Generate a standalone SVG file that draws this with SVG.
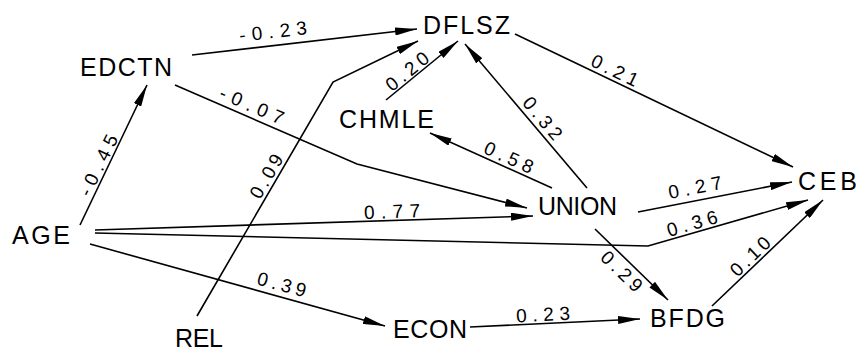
<svg xmlns="http://www.w3.org/2000/svg" width="859" height="352" viewBox="0 0 859 352">
<style>
.node text{font-family:"Liberation Sans","DejaVu Sans",sans-serif;font-size:25px;fill:#000}
.lbl{font-family:"Liberation Sans","DejaVu Sans",sans-serif;font-size:19px;fill:#000;text-anchor:middle}
.edge{fill:none;stroke:#000;stroke-width:1.6;stroke-linejoin:miter;marker-end:url(#ah)}
</style>
<defs>
<marker id="ah" viewBox="0 0 22 8" refX="22" refY="4" markerWidth="22" markerHeight="8" markerUnits="userSpaceOnUse" orient="auto">
<path d="M0,0 L22,4 L0,8 z" fill="#000"/>
</marker>
</defs>
<rect width="859" height="352" fill="#fff"/>
<g id="connectors">
<path class="edge" d="M192,55 L417,29"/>
<path class="edge" d="M80,225 L147,85"/>
<path class="edge" d="M175,85 L357,164 L527,208"/>
<path class="edge" d="M197,316 L333,82 L418,41"/>
<path class="edge" d="M386,100 L458,41"/>
<path class="edge" d="M587,188 L465,44"/>
<path class="edge" d="M552,188 L430,133"/>
<path class="edge" d="M515,34 L793,167"/>
<path class="edge" d="M95,230 L533,216"/>
<path class="edge" d="M95,233 L648,246 L808,200"/>
<path class="edge" d="M638,212 L792,182"/>
<path class="edge" d="M595,229 L668,300"/>
<path class="edge" d="M712,306 L823,200"/>
<path class="edge" d="M90,244 L385,326"/>
<path class="edge" d="M470,327 L640,319"/>
<g id="edge-labels">
<text class="lbl" transform="translate(273,31) rotate(-6.6)" y="7" textLength="68" lengthAdjust="spacing">-0.23</text>
<text class="lbl" transform="translate(98,165) rotate(-64)" y="7" textLength="66" lengthAdjust="spacing">-0.45</text>
<text class="lbl" transform="translate(252,105) rotate(23.5)" y="7" textLength="68" lengthAdjust="spacing">-0.07</text>
<text class="lbl" transform="translate(266,176) rotate(-60)" y="7" textLength="48" lengthAdjust="spacing">0.09</text>
<text class="lbl" transform="translate(407,71) rotate(-39)" y="7" textLength="50" lengthAdjust="spacing">0.20</text>
<text class="lbl" transform="translate(543,118) rotate(50)" y="7" textLength="50" lengthAdjust="spacing">0.32</text>
<text class="lbl" transform="translate(509,157) rotate(24)" y="7" textLength="52" lengthAdjust="spacing">0.58</text>
<text class="lbl" transform="translate(615,70) rotate(26)" y="7" textLength="50" lengthAdjust="spacing">0.21</text>
<text class="lbl" transform="translate(392,211) rotate(-2)" y="7" textLength="56" lengthAdjust="spacing">0.77</text>
<text class="lbl" transform="translate(692,223) rotate(-16)" y="7" textLength="52" lengthAdjust="spacing">0.36</text>
<text class="lbl" transform="translate(695,187) rotate(-11)" y="7" textLength="54" lengthAdjust="spacing">0.27</text>
<text class="lbl" transform="translate(622,271) rotate(44)" y="7" textLength="50" lengthAdjust="spacing">0.29</text>
<text class="lbl" transform="translate(750,256) rotate(-44)" y="7" textLength="48" lengthAdjust="spacing">0.10</text>
<text class="lbl" transform="translate(282,284) rotate(15)" y="7" textLength="50" lengthAdjust="spacing">0.39</text>
<text class="lbl" transform="translate(543,314) rotate(-3)" y="7" textLength="54" lengthAdjust="spacing">0.23</text>
</g>
</g>
<g id="EDCTN" class="node"><text x="80" y="76" textLength="92" lengthAdjust="spacing">EDCTN</text></g>
<g id="DFLSZ" class="node"><text x="423" y="34" textLength="87" lengthAdjust="spacing">DFLSZ</text></g>
<g id="CHMLE" class="node"><text x="339" y="128" textLength="95" lengthAdjust="spacing">CHMLE</text></g>
<g id="UNION" class="node"><text x="538" y="215" textLength="79" lengthAdjust="spacing">UNION</text></g>
<g id="CEB" class="node"><text x="798" y="190" textLength="59" lengthAdjust="spacing">CEB</text></g>
<g id="AGE" class="node"><text x="12" y="244" textLength="58" lengthAdjust="spacing">AGE</text></g>
<g id="REL" class="node"><text x="175" y="347" textLength="48" lengthAdjust="spacing">REL</text></g>
<g id="ECON" class="node"><text x="393" y="338" textLength="74" lengthAdjust="spacing">ECON</text></g>
<g id="BFDG" class="node"><text x="650" y="327" textLength="75" lengthAdjust="spacing">BFDG</text></g>
</svg>
